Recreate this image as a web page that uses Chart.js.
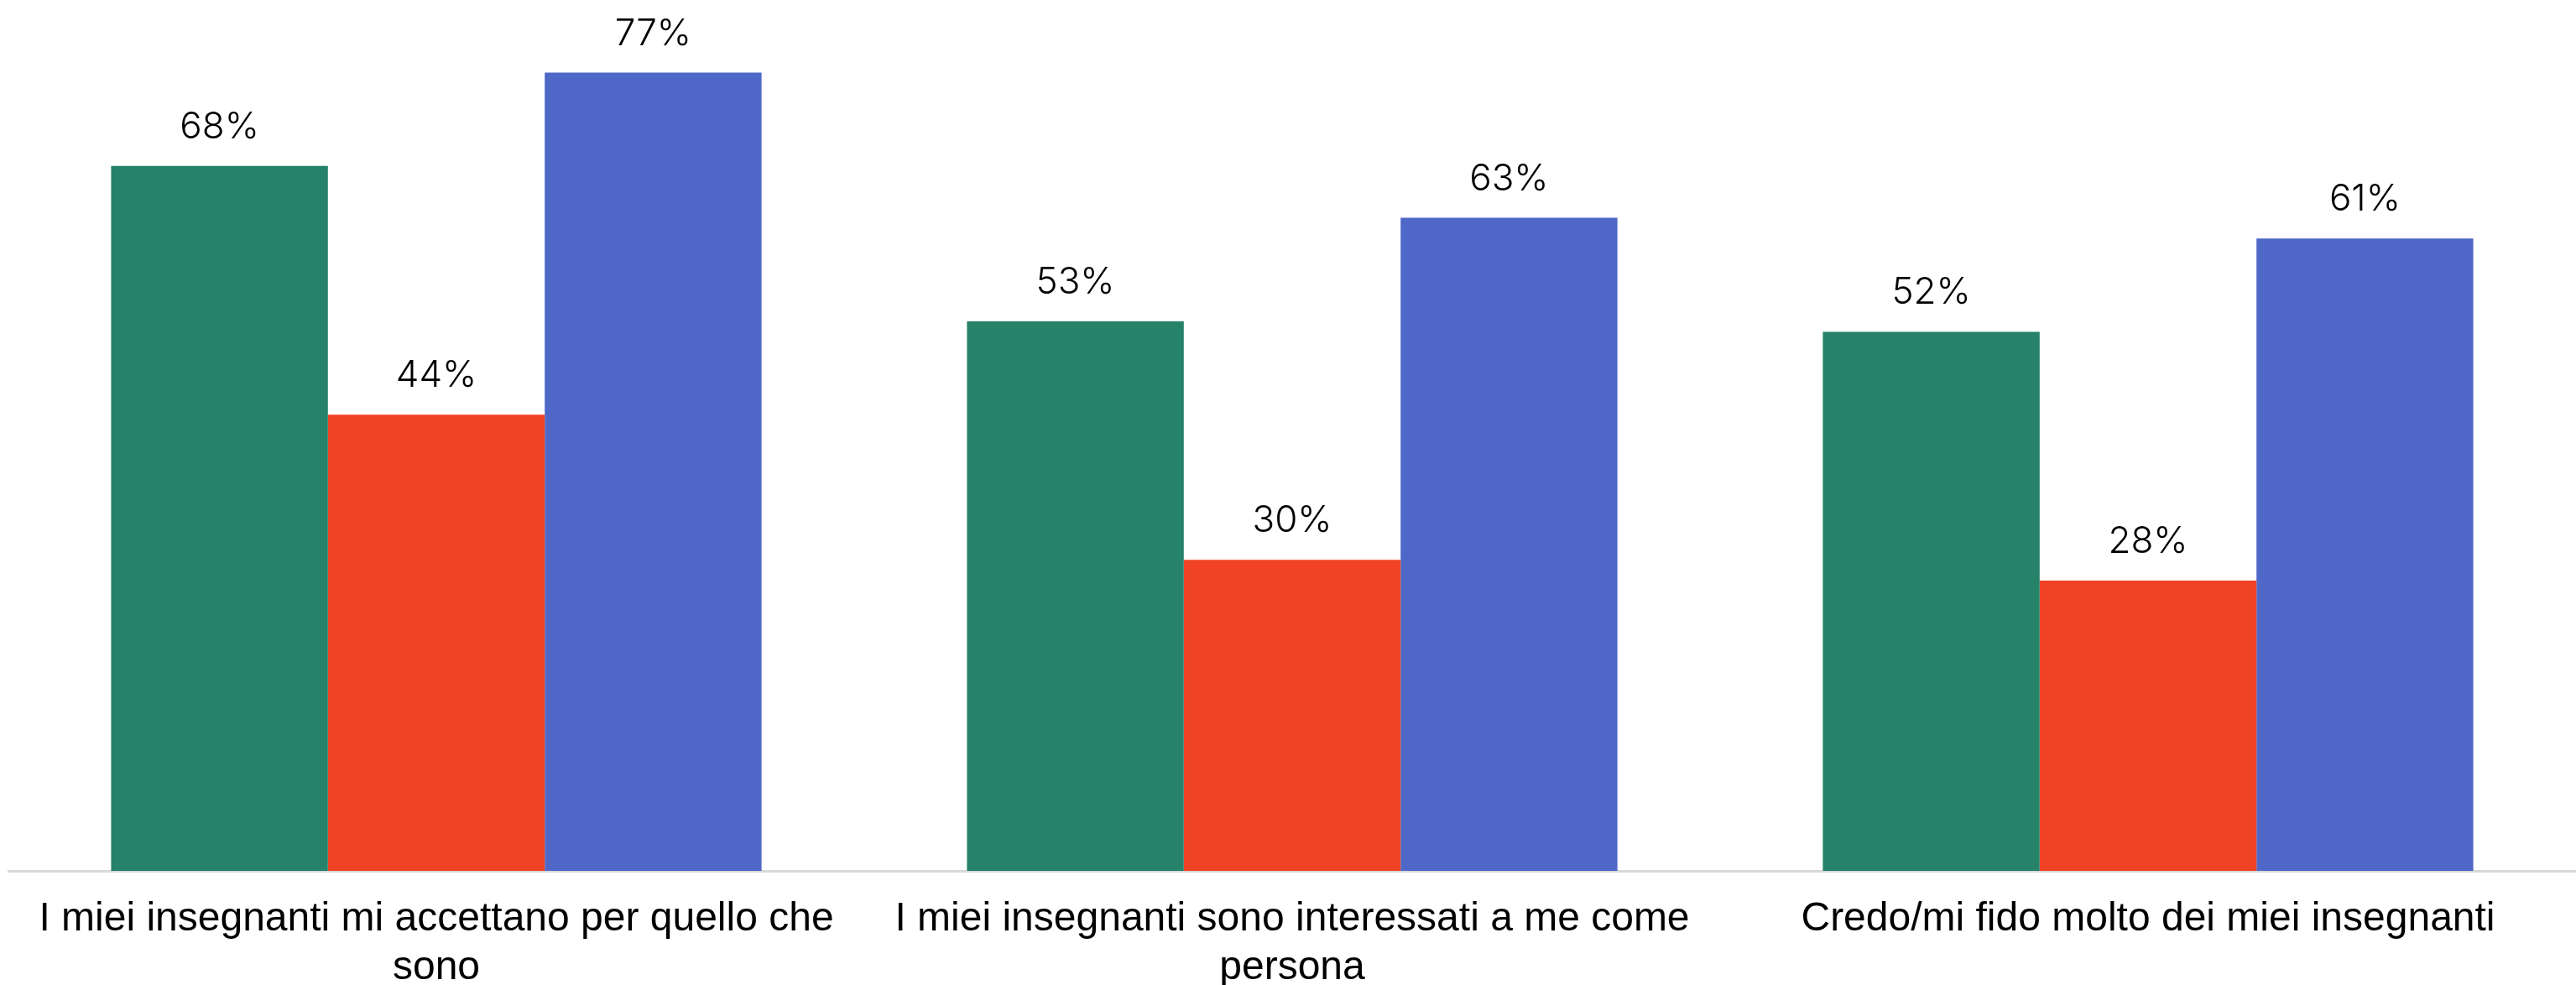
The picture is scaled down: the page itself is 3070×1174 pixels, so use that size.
<!DOCTYPE html>
<html lang="it">
<head>
<meta charset="utf-8">
<title>Insegnanti</title>
<script src="https://cdn.jsdelivr.net/npm/chart.js@4.4.1/dist/chart.umd.min.js"></script>
<style>
  html, body { margin: 0; padding: 0; background: #ffffff; }
  #wrap { width: 3070px; height: 1174px; position: relative; }
</style>
</head>
<body>
<div id="wrap"><canvas id="teachersChart"></canvas></div>
<script>
  // Category labels, pre-wrapped into lines
  const categories = [
    ['I miei insegnanti mi accettano per quello che', 'sono'],
    ['I miei insegnanti sono interessati a me come', 'persona'],
    ['Credo/mi fido molto dei miei insegnanti']
  ];

  // Percentages per series (one value per category)
  const seriesGreen = [68, 53, 52];
  const seriesRed = [44, 30, 28];
  const seriesBlue = [77, 63, 61];

  const COLORS = {
    green: '#268269',
    red: '#f04325',
    blue: '#4f68c8',
    axis: '#d9d9d9',
    text: '#000000'
  };

  // Writes "NN%" above every bar
  const valueLabels = {
    id: 'valueLabels',
    afterDatasetsDraw(chart) {
      const { ctx } = chart;
      ctx.save();
      ctx.font = '300 44px Inter, "Liberation Sans", sans-serif';
      ctx.fillStyle = COLORS.text;
      ctx.textAlign = 'center';
      ctx.textBaseline = 'alphabetic';
      chart.data.datasets.forEach((ds, i) => {
        chart.getDatasetMeta(i).data.forEach((bar, j) => {
          ctx.fillText(ds.data[j] + '%', bar.x, bar.y - 33);
        });
      });
      ctx.restore();
    }
  };

  document.addEventListener('DOMContentLoaded', function () {
    const canvas = document.getElementById('teachersChart');
    new Chart(canvas, {
      type: 'bar',
      data: {
        labels: categories,
        datasets: [
          { data: seriesGreen, backgroundColor: COLORS.green },
          { data: seriesRed, backgroundColor: COLORS.red },
          { data: seriesBlue, backgroundColor: COLORS.blue }
        ]
      },
      options: {
        responsive: true,
        maintainAspectRatio: false,
        animation: false,
        layout: { padding: { left: 10, right: 0, top: 0, bottom: 0 } },
        datasets: { bar: { barPercentage: 1, categoryPercentage: 0.76 } },
        plugins: {
          legend: { display: false },
          tooltip: { enabled: false }
        },
        scales: {
          x: {
            grid: { display: false, drawTicks: false },
            border: { display: true, color: COLORS.axis, width: 3 },
            ticks: {
              color: COLORS.text,
              font: { family: '"Liberation Sans", Arial, sans-serif', size: 48, lineHeight: 1.22 },
              padding: 28,
              maxRotation: 0,
              autoSkip: false
            },
            afterFit(scale) { scale.height = 136; }
          },
          y: {
            display: false,
            min: 0,
            max: 84
          }
        }
      },
      plugins: [valueLabels]
    });
  });
</script>
</body>
</html>
